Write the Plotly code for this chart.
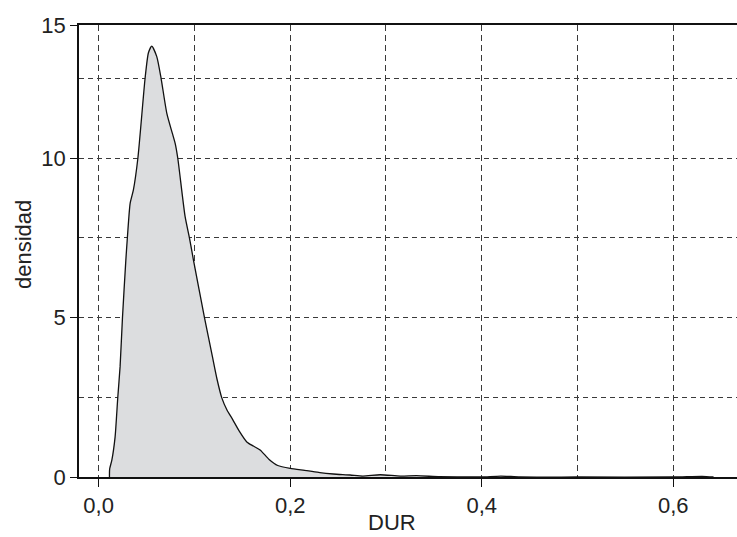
import plotly.graph_objects as go

# Kernel density estimate of DUR
dur = [0.0113, 0.0115, 0.0138, 0.0172, 0.0200, 0.0224, 0.0249, 0.0284, 0.0300,
       0.0329, 0.0363, 0.0410, 0.0485, 0.0520, 0.0555, 0.0607, 0.0652, 0.0712,
       0.0770, 0.0799, 0.0826, 0.0903, 0.0948, 0.0990, 0.1105, 0.1188, 0.1235,
       0.1286, 0.1340, 0.1400, 0.1470, 0.1547, 0.1616, 0.1686, 0.1780, 0.1870,
       0.2000, 0.2173, 0.2310, 0.2450, 0.2625, 0.2760, 0.2940, 0.3150, 0.3320,
       0.3560, 0.3800, 0.4000, 0.4200, 0.4400, 0.5000, 0.6000, 0.6300, 0.6420]
densidad = [0.00, 0.25, 0.53, 1.26, 2.50, 3.46, 5.00, 6.80, 7.50,
            8.58, 9.00, 10.00, 12.50, 13.30, 13.51, 13.18, 12.50, 11.40,
            10.77, 10.46, 10.00, 8.16, 7.50, 6.80, 5.00, 3.77, 3.08,
            2.48, 2.10, 1.80, 1.43, 1.10, 0.97, 0.85, 0.55, 0.36,
            0.27, 0.20, 0.135, 0.094, 0.063, 0.030, 0.070, 0.030, 0.040,
            0.010, 0.005, 0.000, 0.030, 0.000, 0.000, 0.000, 0.020, 0.000]

x_ticks = [0.0, 0.2, 0.4, 0.6]
x_ticktext = ["0,0", "0,2", "0,4", "0,6"]
y_top = 14.17
y_ticks = [0, 5, 10, y_top]
y_ticktext = ["0", "5", "10", "15"]

font_family = "Liberation Sans, Arial, sans-serif"
grid_color = "#3a3a3a"

fig = go.Figure()
fig.add_trace(go.Scatter(
    x=dur, y=densidad, mode="lines",
    line=dict(color="#111111", width=1.3, shape="spline", smoothing=0.6),
    fill="tozeroy", fillcolor="#dcdddf",
    hoverinfo="skip", showlegend=False,
))

fig.update_layout(
    width=737, height=537,
    margin=dict(l=79, r=0, t=25, b=60),
    paper_bgcolor="white", plot_bgcolor="white",
    font=dict(family=font_family, size=22, color="#222222"),
    xaxis=dict(
        range=[-0.0205, 0.6665],
        tickvals=x_ticks, ticktext=x_ticktext,
        ticks="outside", ticklen=8, tickcolor="#111111", tickwidth=1.2,
        showline=True, linecolor="#111111", linewidth=1.5, mirror=True,
        showgrid=True, gridcolor=grid_color, gridwidth=1, griddash="6px,4px",
        minor=dict(dtick=0.1, tick0=0, showgrid=True, gridcolor=grid_color,
                   gridwidth=1, griddash="6px,4px", ticks=""),
        zeroline=False,
    ),
    yaxis=dict(
        range=[0, y_top],
        tickvals=y_ticks, ticktext=y_ticktext,
        ticks="outside", ticklen=7, tickcolor="#111111", tickwidth=1.2,
        showline=True, linecolor="#111111", linewidth=1.5, mirror=False,
        showgrid=True, gridcolor=grid_color, gridwidth=1, griddash="5px,4px",
        minor=dict(dtick=2.5, tick0=0, showgrid=True, gridcolor=grid_color,
                   gridwidth=1, griddash="5px,4px", ticks=""),
        zeroline=False,
    ),
    annotations=[
        dict(text="DUR", xref="paper", yref="paper",
             x=(392 - 79) / 658, y=(477 - 522) / 452,
             xanchor="center", yanchor="middle", showarrow=False,
             font=dict(size=22, color="#222222")),
        dict(text="densidad", xref="paper", yref="paper",
             x=(23 - 79) / 658, y=(477 - 245) / 452, textangle=-90,
             xanchor="center", yanchor="middle", showarrow=False,
             font=dict(size=22, color="#222222")),
    ],
)

fig.write_html("out.html")
